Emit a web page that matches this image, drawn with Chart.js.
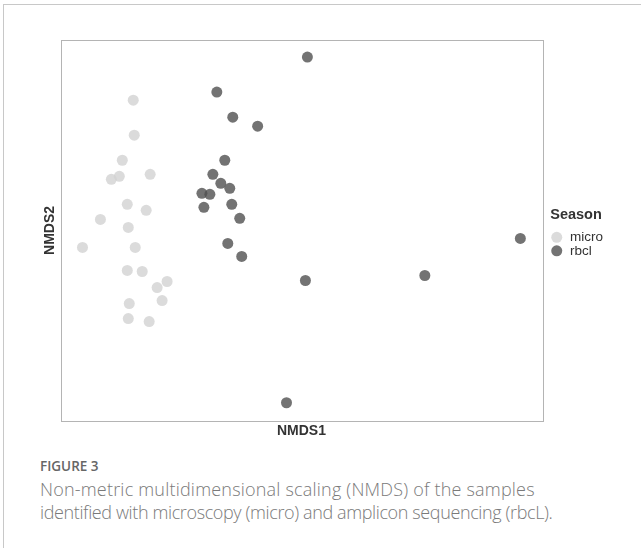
<!DOCTYPE html>
<html>
<head>
<meta charset="utf-8">
<script src="https://cdn.jsdelivr.net/npm/chart.js@4"></script>
<style>
  html, body { margin: 0; padding: 0; background: #fff; }
  #page { position: relative; width: 641px; height: 548px; overflow: hidden; }
  #frame { position: absolute; left: 3px; top: 4px; width: 660px; height: 600px; border-left: 1px solid #c8c8c8; border-top: 1px solid #c8c8c8; }
  #chartBox { position: absolute; left: 0; top: 0; width: 641px; height: 448px; }
  #figlabel { position: absolute; left: 40px; top: 457px; font-family: "Open Sans", sans-serif; font-weight: 600; font-size: 13.5px; color: #666; line-height: 18px; }
  #caption { position: absolute; left: 40px; top: 478px; width: 600px; font-family: "Open Sans", sans-serif; font-weight: 300; font-size: 18px; color: #7a7a7a; line-height: 22.6px; white-space: nowrap; }
  #l1 { letter-spacing: 0.2px; }
  #l2 { letter-spacing: -0.38px; }
</style>
</head>
<body>
<div id="page">
  <div id="frame"></div>
  <div id="chartBox"><canvas id="c"></canvas></div>
  <div id="figlabel">FIGURE 3</div>
  <div id="caption"><span id="l1">Non-metric multidimensional scaling (NMDS) of the samples</span><br><span id="l2">identified with microscopy (micro) and amplicon sequencing (rbcL).</span></div>
</div>
<script>
// Season groups
const seriesNames = ["micro", "rbcl"];

// NMDS coordinates (arbitrary NMDS units)
const microNMDS1 = [0.73, 0.74, 0.62, 0.51, 0.59, 0.90, 0.67, 0.86, 0.40, 0.68, 0.22, 0.75, 0.67, 0.82, 1.07, 0.97, 0.69, 1.02, 0.68, 0.89];
const microNMDS2 = [3.20, 2.85, 2.60, 2.41, 2.44, 2.46, 2.16, 2.10, 2.01, 1.93, 1.73, 1.73, 1.50, 1.49, 1.39, 1.33, 1.17, 1.20, 1.02, 0.99];

const rbclNMDS1 = [2.48, 1.57, 1.73, 1.98, 1.65, 1.53, 1.61, 1.70, 1.42, 1.50, 1.44, 1.72, 1.80, 1.68, 1.82, 2.46, 2.27, 4.62, 3.66];
const rbclNMDS2 = [3.63, 3.28, 3.03, 2.94, 2.60, 2.46, 2.37, 2.32, 2.27, 2.26, 2.13, 2.16, 2.02, 1.77, 1.64, 1.40, 0.18, 1.82, 1.45];

const xRange = [0, 4.84];
const yRange = [0, 3.80];

const colors = { micro: "rgba(210,210,210,0.8)", rbcl: "rgba(80,80,80,0.8)" };

function pts(xs, ys) { return xs.map((x, i) => ({ x: x, y: ys[i] })); }

const panelBorder = {
  id: "panelBorder",
  afterDraw(chart) {
    const a = chart.chartArea, ctx = chart.ctx;
    ctx.save();
    ctx.strokeStyle = "#b4b4b4";
    ctx.lineWidth = 1;
    ctx.strokeRect(Math.round(a.left) + 0.5, Math.round(a.top) + 0.5, Math.round(a.right - a.left), Math.round(a.bottom - a.top));
    ctx.restore();
  }
};

const fam = "'Liberation Sans', Arial, sans-serif";

new Chart(document.getElementById("c"), {
  type: "scatter",
  data: {
    datasets: [
      { label: seriesNames[0], data: pts(microNMDS1, microNMDS2), backgroundColor: colors.micro, borderWidth: 0, pointRadius: 5.5, pointHoverRadius: 5.5 },
      { label: seriesNames[1], data: pts(rbclNMDS1, rbclNMDS2), backgroundColor: colors.rbcl, borderWidth: 0, pointRadius: 5.5, pointHoverRadius: 5.5 }
    ]
  },
  options: {
    responsive: true,
    maintainAspectRatio: false,
    animation: false,
    layout: { padding: { top: 40, bottom: 6.4, left: 38.2, right: 28 } },
    scales: {
      x: {
        type: "linear", min: xRange[0], max: xRange[1],
        ticks: { display: false },
        grid: { display: false, drawTicks: false },
        border: { display: false },
        title: { display: true, text: "NMDS1", color: "#333", font: { family: fam, size: 14, weight: "bold" }, padding: { top: 2, bottom: 2 } }
      },
      y: {
        type: "linear", min: yRange[0], max: yRange[1],
        ticks: { display: false },
        grid: { display: false, drawTicks: false },
        border: { display: false },
        title: { display: true, text: "NMDS2", color: "#333", font: { family: fam, size: 14, weight: "bold" }, padding: { top: 3.4, bottom: 2.2 } }
      },
      gap: {
        type: "linear", position: "right", display: true,
        ticks: { display: false },
        grid: { display: false, drawTicks: false },
        border: { display: false },
        afterFit(s) { s.width = 8; }
      }
    },
    plugins: {
      tooltip: { enabled: false },
      legend: {
        position: "right",
        align: "center",
        fullSize: false,
        title: { display: true, text: "Season", position: "start", color: "#333", font: { family: fam, size: 14.5, weight: "bold" }, padding: { top: 5, bottom: 5 } },
        labels: {
          usePointStyle: true, pointStyle: "circle",
          boxWidth: 13, boxHeight: 7.8,
          padding: 0,
          color: "#333",
          font: { family: fam, size: 13.5 }
        }
      }
    }
  },
  plugins: [panelBorder]
});
</script>
</body>
</html>
